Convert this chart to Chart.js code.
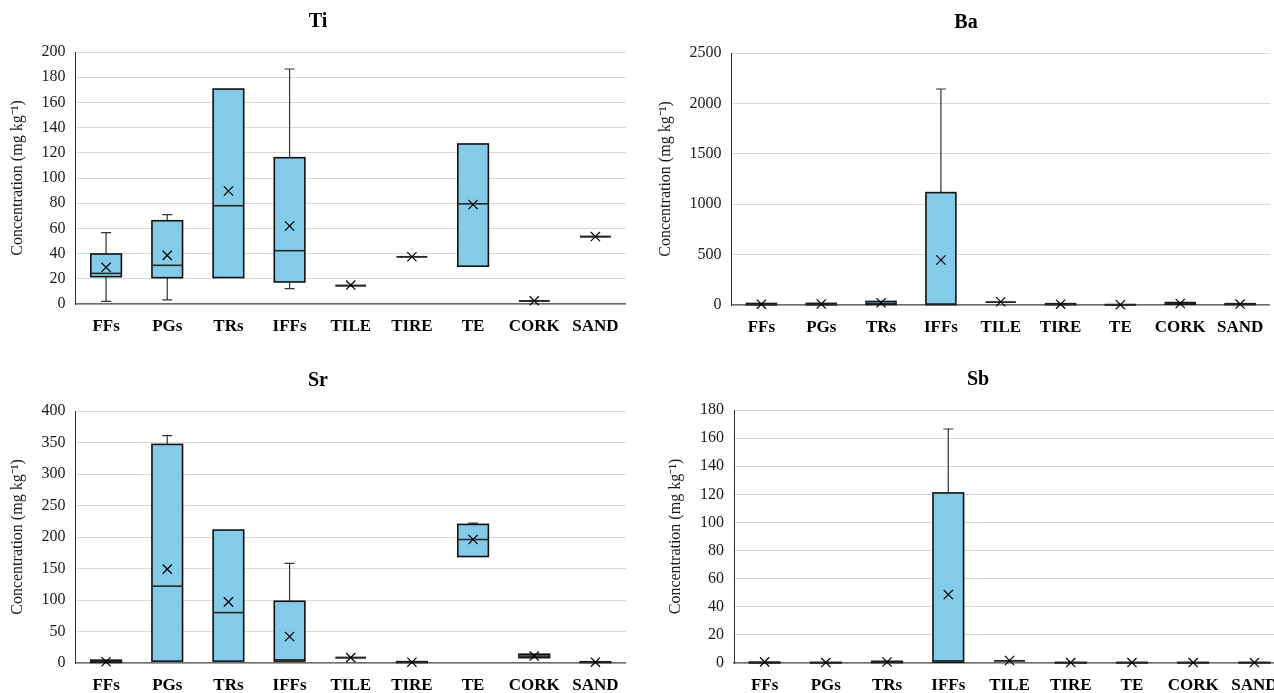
<!DOCTYPE html>
<html>
<head>
<meta charset="utf-8">
<script src="https://cdn.jsdelivr.net/npm/chart.js@4.4.1/dist/chart.umd.min.js"></script>
<style>
html, body { margin:0; padding:0; background:#fff; overflow:hidden; width:1274px; height:693px; }
#wrap { position:relative; width:1274px; height:693px; overflow:hidden; background:#fff; }
canvas { position:absolute; }
</style>
</head>
<body>
<div id="wrap">
  <canvas id="cTi"></canvas>
  <canvas id="cBa"></canvas>
  <canvas id="cSr"></canvas>
  <canvas id="cSb"></canvas>
</div>
<script>
// ---------------- DATA ----------------
const categories = ['FFs', 'PGs', 'TRs', 'IFFs', 'TILE', 'TIRE', 'TE', 'CORK', 'SAND'];
const yAxisTitle = 'Concentration (mg kg\u207B\u00B9)';

// Ti
const tiMin  = [2.1, 3.2, 21, 12.2, 14.6, 37.5, 30, 2.5, 53.5];
const tiQ1   = [21.7, 20.9, 21, 17.5, 14.6, 37.5, 30, 2.5, 53.5];
const tiMed  = [24.3, 30.7, 78, 42.3, 14.6, 37.5, 79.5, 2.5, 53.5];
const tiQ3   = [39.7, 66.1, 170.6, 116.1, 14.6, 37.5, 127, 2.5, 53.5];
const tiMax  = [56.6, 70.9, 170.6, 186.5, 14.6, 37.5, 127, 2.5, 53.5];
const tiMean = [29.1, 38.6, 89.7, 61.9, 15, 37.5, 79, 2.5, 53.5];

// Ba
const baMin  = [1, 1, 3, 2, 28, 2, 1, 6, 3];
const baQ1   = [3, 3, 6, 4, 28, 4, 1.5, 8, 4];
const baMed  = [6, 7, 15, 9, 28, 7, 2.5, 14, 8];
const baQ3   = [15, 16, 35, 1115, 28, 13, 4, 24, 13];
const baMax  = [20, 20, 40, 2143, 28, 15, 5, 26, 15];
const baMean = [8, 10, 22, 446, 32, 8, 3, 15, 9];

// Sr
const srMin  = [0.5, 2.5, 2.5, 2, 8.5, 0.5, 168, 8, 0.5];
const srQ1   = [1, 3, 3, 3, 8.5, 0.8, 169, 8.5, 0.8];
const srMed  = [2, 122, 80, 5, 8.5, 1.2, 196, 11, 1.2];
const srQ3   = [4.5, 347, 211, 98, 8.5, 2.2, 220, 14, 2];
const srMax  = [5, 361, 211, 158, 8.5, 2.5, 222, 15, 2.5];
const srMean = [2, 149, 97, 42, 8.5, 1.3, 196, 11, 1.3];

// Sb
const sbMin  = [0.05, 0.1, 0.2, 0.3, 1.6, 0.1, 0.1, 0.1, 0.1];
const sbQ1   = [0.1, 0.15, 0.3, 0.6, 1.6, 0.15, 0.15, 0.15, 0.15];
const sbMed  = [0.3, 0.25, 0.6, 1.5, 1.6, 0.25, 0.25, 0.25, 0.25];
const sbQ3   = [0.6, 0.4, 1.2, 121, 1.6, 0.4, 0.4, 0.4, 0.4];
const sbMax  = [0.7, 0.5, 1.3, 166.5, 1.6, 0.5, 0.5, 0.5, 0.5];
const sbMean = [0.8, 0.3, 0.7, 48.7, 1.8, 0.3, 0.3, 0.3, 0.3];

// ---------------- LAYOUT / STYLE ----------------
const SERIF = "'Liberation Serif', 'Times New Roman', serif";
const BOX_FILL = '#84CBEA';

const panels = [
  { id:'cTi', title:'Ti', min:tiMin, q1:tiQ1, med:tiMed, q3:tiQ3, max:tiMax, mean:tiMean,
    yMax:200, step:20, left:0, top:0, width:626, height:340, padL:10, yWidth:65.5, yTitlePad:-1.6 },
  { id:'cBa', title:'Ba', min:baMin, q1:baQ1, med:baMed, q3:baQ3, max:baMax, mean:baMean,
    yMax:2500, step:500, left:640, top:1, width:630, height:340, padL:22, yWidth:69.5, yTitlePad:-5.6 },
  { id:'cSr', title:'Sr', min:srMin, q1:srQ1, med:srMed, q3:srQ3, max:srMax, mean:srMean,
    yMax:400, step:50, left:0, top:359, width:626, height:340, padL:10, yWidth:65.5, yTitlePad:-1.6 },
  { id:'cSb', title:'Sb', min:sbMin, q1:sbQ1, med:sbMed, q3:sbQ3, max:sbMax, mean:sbMean,
    yMax:180, step:20, left:640, top:358, width:645, height:341, padL:31, yWidth:63, yTitlePad:-4.6 }
];

function makeBoxPlugin(p) {
  return {
    id: 'boxWhisker_' + p.id,
    afterDatasetDraw(chart, args) {
      if (args.index !== 0) return;
      const ctx = chart.ctx;
      const ys = chart.scales.y;
      const meta = chart.getDatasetMeta(0);
      ctx.save();
      meta.data.forEach((el, i) => {
        const x = el.x;
        const w = el.width;
        const yMin = ys.getPixelForValue(p.min[i]);
        const yQ1 = ys.getPixelForValue(p.q1[i]);
        const yMed = ys.getPixelForValue(p.med[i]);
        const yQ3 = ys.getPixelForValue(p.q3[i]);
        const yMax = ys.getPixelForValue(p.max[i]);
        const cap = 5;
        // whiskers
        ctx.strokeStyle = '#333';
        ctx.lineWidth = 1.2;
        ctx.beginPath();
        if (yQ3 - yMax > 1) {
          ctx.moveTo(x, yQ3); ctx.lineTo(x, yMax);
          ctx.moveTo(x - cap, yMax); ctx.lineTo(x + cap, yMax);
        }
        if (yMin - yQ1 > 1) {
          ctx.moveTo(x, yQ1); ctx.lineTo(x, yMin);
          ctx.moveTo(x - cap, yMin); ctx.lineTo(x + cap, yMin);
        }
        ctx.stroke();
        // box outline
        ctx.strokeStyle = '#111';
        ctx.lineWidth = 1.6;
        ctx.strokeRect(x - w / 2, yQ3, w, yQ1 - yQ3);
        // median
        ctx.strokeStyle = '#262626';
        ctx.lineWidth = 1.6;
        ctx.beginPath();
        ctx.moveTo(x - w / 2, yMed); ctx.lineTo(x + w / 2, yMed);
        ctx.stroke();
      });
      ctx.restore();
    }
  };
}

panels.forEach(p => {
  const cv = document.getElementById(p.id);
  cv.width = p.width;
  cv.height = p.height;
  cv.style.left = p.left + 'px';
  cv.style.top = p.top + 'px';
  cv.style.width = p.width + 'px';
  cv.style.height = p.height + 'px';

  new Chart(cv.getContext('2d'), {
    data: {
      labels: categories,
      datasets: [
        {
          type: 'bar',
          label: 'box',
          data: categories.map((c, i) => [p.q1[i], p.q3[i]]),
          backgroundColor: BOX_FILL,
          borderWidth: 0,
          categoryPercentage: 0.5,
          barPercentage: 1.0,
          order: 2
        },
        {
          type: 'line',
          label: 'mean',
          data: p.mean,
          showLine: false,
          pointStyle: 'crossRot',
          pointRadius: 6.5,
          pointBorderColor: '#000',
          pointBackgroundColor: '#000',
          pointBorderWidth: 1.2,
          clip: false,
          order: 1
        }
      ]
    },
    options: {
      responsive: false,
      animation: false,
      devicePixelRatio: 1,
      layout: { autoPadding: false, padding: { left: p.padL, right: 0, top: 0, bottom: 0 } },
      plugins: {
        legend: { display: false },
        tooltip: { enabled: false },
        title: {
          display: true,
          text: p.title,
          color: '#000',
          font: { family: SERIF, size: 20, weight: 'bold', lineHeight: 1.2 },
          padding: { top: 10, bottom: 18 }
        }
      },
      scales: {
        x: {
          type: 'category',
          offset: true,
          grid: { display: false, drawTicks: false, tickLength: 0 },
          border: { display: true, color: '#6b6b6b', width: 1.5 },
          ticks: {
            color: '#000',
            font: { family: SERIF, size: 17, weight: 'bold' },
            padding: 12,
            maxRotation: 0,
            minRotation: 0,
            autoSkip: false
          },
          afterFit(scale) {
            scale.height = 36;
            scale.paddingLeft = 0;
            scale.paddingRight = 0;
          }
        },
        y: {
          min: 0,
          max: p.yMax,
          grid: { color: '#d9d9d9', lineWidth: 1, drawTicks: false, tickLength: 0 },
          border: { display: true, color: '#333', width: 1 },
          ticks: {
            stepSize: p.step,
            color: '#1a1a1a',
            font: { family: SERIF, size: 16 },
            padding: 10,
            callback: (v) => String(v)
          },
          title: {
            display: true,
            text: yAxisTitle,
            color: '#1a1a1a',
            font: { family: SERIF, size: 16 },
            padding: { top: p.yTitlePad, bottom: 0 }
          },
          afterFit(scale) {
            scale.width = p.yWidth;
            scale.paddingTop = 0;
            scale.paddingBottom = 0;
          }
        }
      }
    },
    plugins: [makeBoxPlugin(p)]
  });
});
</script>
</body>
</html>
